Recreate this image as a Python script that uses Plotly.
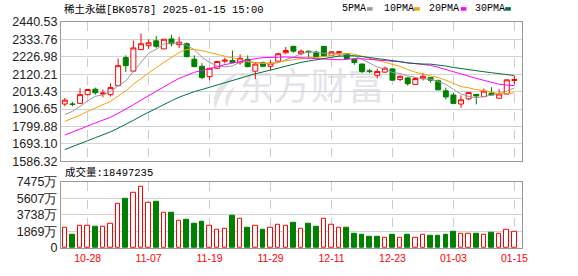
import plotly.graph_objects as go

# ---------------- data ----------------
dates = ["10-23","10-24","10-25","10-28","10-29","10-30","10-31","11-01","11-04","11-05",
         "11-06","11-07","11-08","11-11","11-12","11-13","11-14","11-15","11-18","11-19",
         "11-20","11-21","11-22","11-25","11-26","11-27","11-28","11-29","12-02","12-03",
         "12-04","12-05","12-06","12-09","12-10","12-11","12-12","12-13","12-16","12-17",
         "12-18","12-19","12-20","12-23","12-24","12-25","12-26","12-27","12-30","12-31",
         "01-02","01-03","01-06","01-07","01-08","01-09","01-10","01-13","01-14","01-15"]

tick_labels = ["10-28","11-07","11-19","11-29","12-11","12-23","01-03","01-15"]

open_ = [1937.9,1938.0,1941.8,1995.0,2028.7,1999.1,1995.2,2050.4,2222.3,2139.3,
         2271.7,2295.4,2325.0,2275.6,2336.8,2301.3,2307.2,2212.4,2169.0,2105.7,
         2157.1,2200.5,2204.5,2190.7,2212.4,2139.3,2190.7,2169.0,2200.5,2251.9,
         2291.4,2246.0,2261.8,2255.9,2291.4,2236.1,2253.9,2246.0,2212.4,2182.8,
         2140.5,2113.7,2133.4,2153.2,2088.0,2097.8,2058.3,2095.9,2099.8,2080.1,
         2018.9,1993.2,1937.9,1969.5,1997.2,1983.3,2005.0,1973.4,1999.1,2082.1]
high = [1975.4,1951.7,2034.7,2030.7,2038.6,2026.8,2064.3,2216.4,2236.1,2327.0,
        2370.4,2334.9,2354.6,2336.5,2362.5,2350.7,2315.1,2236.1,2188.7,2159.0,
        2202.5,2222.3,2265.7,2242.0,2236.1,2192.7,2198.6,2206.5,2251.9,2287.5,
        2295.4,2271.7,2265.7,2265.7,2292.0,2261.8,2259.8,2248.0,2216.4,2186.7,
        2153.2,2153.2,2167.0,2157.1,2113.7,2101.8,2103.8,2129.5,2103.8,2088.0,
        2038.6,2007.0,1991.2,2011.0,1999.1,2032.7,2040.6,2028.7,2088.0,2109.7]
low = [1924.0,1924.0,1940.0,1991.2,1995.2,1979.3,1983.3,2046.5,2133.4,2137.0,
       2267.7,2275.6,2279.5,2274.0,2291.4,2281.5,2224.2,2163.0,2090.0,2084.0,
       2153.2,2186.7,2190.7,2178.8,2163.1,2090.0,2167.0,2143.3,2192.7,2244.0,
       2251.9,2236.0,2226.2,2226.2,2228.2,2232.2,2228.2,2212.4,2178.8,2127.5,
       2127.5,2093.9,2131.4,2082.0,2078.1,2050.5,2056.4,2082.1,2068.2,2022.8,
       1965.6,1939.9,1914.2,1961.6,1935.9,1981.4,1991.2,1973.4,1997.0,2058.3]
close = [1961.6,1936.0,1995.2,2026.8,2007.0,2005.0,2038.6,2172.9,2172.9,2281.5,
         2307.2,2313.1,2291.4,2334.9,2307.2,2317.1,2228.2,2167.0,2099.8,2157.1,
         2198.6,2206.5,2192.7,2218.3,2167.0,2182.8,2169.0,2188.7,2246.0,2265.7,
         2261.8,2261.8,2257.8,2228.2,2232.2,2257.8,2257.8,2216.4,2192.7,2137.4,
         2139.0,2137.4,2157.1,2084.1,2107.7,2062.3,2093.9,2107.7,2084.1,2024.8,
         1981.4,1941.8,1963.6,2009.0,1987.3,2016.9,1993.2,1999.1,2086.0,2088.0]

ma5 = [1873.0,1893.0,1923.0,1957.7,1985.3,1994.0,2014.5,2050.0,2079.3,2134.2,
       2194.6,2249.5,2273.2,2305.6,2310.8,2312.7,2295.8,2270.9,2223.9,2193.8,
       2170.1,2165.8,2170.9,2194.6,2196.6,2193.5,2186.0,2185.2,2190.7,2210.4,
       2226.2,2244.8,2258.6,2255.1,2248.4,2247.6,2246.8,2238.5,2231.4,2212.4,
       2188.7,2164.6,2152.7,2131.0,2125.1,2109.7,2101.0,2091.1,2091.1,2074.6,
       2058.4,2028.0,1999.1,1984.1,1976.6,1983.7,1994.0,2001.1,2016.5,2036.6]
ma10 = [1831.4,1848.0,1869.5,1893.2,1913.9,1933.6,1954.0,1986.8,2018.6,2059.8,
        2094.4,2132.1,2161.7,2192.5,2222.5,2253.7,2272.7,2272.1,2264.8,2252.4,
        2241.5,2230.8,2220.9,2209.2,2198.0,2190.0,2186.0,2187.0,2195.0,2203.6,
        2209.9,2215.4,2221.9,2222.9,2229.4,2236.9,2245.8,2248.6,2243.3,2230.5,
        2218.2,2205.8,2195.7,2181.3,2168.8,2149.2,2132.8,2121.9,2111.0,2099.7,
        2083.9,2064.3,2044.9,2037.4,2025.4,2020.9,2010.8,1999.9,2000.1,2006.4]
ma20 = [1748.0,1765.0,1784.0,1804.0,1822.0,1839.0,1857.0,1881.0,1905.0,1933.0,
        1962.0,1990.0,2016.0,2044.0,2070.0,2095.0,2115.0,2132.0,2144.0,2154.0,
        2166.0,2179.4,2189.3,2198.9,2206.9,2215.8,2222.3,2223.1,2226.8,2226.0,
        2223.7,2221.1,2219.4,2214.1,2210.3,2207.3,2208.8,2211.3,2215.9,2214.9,
        2211.9,2208.4,2206.6,2199.9,2196.9,2190.9,2187.1,2183.1,2175.0,2163.0,
        2149.0,2133.0,2118.3,2107.3,2095.1,2083.1,2069.9,2059.0,2053.7,2051.2]
ma30 = [1659.0,1675.7,1694.0,1713.1,1731.2,1748.9,1767.4,1790.0,1812.3,1837.9,
        1864.0,1888.4,1911.5,1935.4,1957.7,1979.7,1998.1,2013.9,2026.8,2041.0,
        2055.9,2070.5,2084.3,2098.6,2110.8,2123.3,2134.4,2145.9,2158.9,2172.1,
        2181.9,2192.8,2201.5,2208.2,2215.7,2224.1,2231.4,2232.9,2233.5,2228.7,
        2223.1,2217.2,2212.7,2204.3,2197.7,2189.2,2184.7,2182.7,2182.2,2177.8,
        2170.6,2161.8,2154.2,2147.2,2141.2,2135.7,2129.8,2123.5,2118.2,2112.3]

volume_wan = [2261,1532,2480,2480,2407,2370,2699,4996,5580,6200,
              6966,5106,5252,4012,3939,3027,3173,2735,2990,2480,
              2079,2152,3611,3246,2298,2480,2079,2261,2589,2480,
              2845,2152,2735,2407,3246,2589,2261,2298,1641,1532,
              1313,1313,1204,1532,1167,1532,1204,1495,1422,1422,
              1532,1860,1641,1641,1641,1532,1751,1641,2079,1849.7235]
# volume bar colour: "u" = up (red hollow), "d" = down (green)
volume_dir = ["u","d","u","u","d","u","u","u","d","u",
              "u","u","d","u","d","u","d","d","d","u",
              "u","u","d","u","d","u","d","u","u","u",
              "d","u","d","d","u","u","u","d","d","d",
              "d","d","u","d","u","d","u","u","d","d",
              "d","d","u","u","d","u","d","u","u","u"]

price_ticks = [1586.32,1693.10,1799.88,1906.65,2013.43,2120.21,2226.98,2333.76,2440.53]
vol_ticks = [0,1868.75,3737.5,5606.25,7475]
vol_tick_text = ["0","1869万","3738万","5607万","7475万"]
last_volume = "18497235"
title_text = "稀土永磁[BK0578] 2025-01-15 15:00"
ma_names = ["5PMA","10PMA","20PMA","30PMA"]

# ---------------- style ----------------
RED = "#ff0000"
GREEN = "#008000"
MA_COLORS = ["#999999", "#f5a300", "#ff00ff", "#00703a"]
W, H = 578, 276
L, R, T, B = 55, 56, 22, 21
PW, PH = W - L - R, H - T - B

def pxx(x):
    return (x - L) / PW

def pyy(y):
    return (H - B - y) / PH

x = list(range(len(dates)))
tickvals = [dates.index(t) for t in tick_labels]

fig = go.Figure()

fig.add_trace(go.Candlestick(
    x=x, open=open_, high=high, low=low, close=close,
    increasing=dict(line=dict(color=RED, width=1), fillcolor="white"),
    decreasing=dict(line=dict(color=GREEN, width=1), fillcolor=GREEN),
    whiskerwidth=0, xaxis="x", yaxis="y", showlegend=False, hoverinfo="skip"))

for vals, col in zip([ma5, ma10, ma20, ma30], MA_COLORS):
    fig.add_trace(go.Scatter(x=x, y=vals, mode="lines",
                             line=dict(color=col, width=1),
                             xaxis="x", yaxis="y", showlegend=False, hoverinfo="skip"))

fig.add_trace(go.Bar(
    x=x, y=volume_wan, width=0.6,
    marker=dict(color=["white" if d == "u" else GREEN for d in volume_dir],
                line=dict(color=[RED if d == "u" else GREEN for d in volume_dir], width=1)),
    xaxis="x2", yaxis="y2", showlegend=False, hoverinfo="skip"))

axis_font = dict(family="Liberation Sans, Arial", size=12.5, color="#222")
common_x = dict(range=[-0.5, 60.0], tickvals=tickvals, showgrid=True,
                gridcolor="#cccccc", griddash="dash", gridwidth=1,
                showline=True, mirror=True, linecolor="#999999", linewidth=1,
                zeroline=False, ticks="")

fig.update_layout(
    width=W, height=H,
    margin=dict(l=L, r=R, t=T, b=B, pad=0),
    paper_bgcolor="white", plot_bgcolor="white",
    boxgap=0.35, boxgroupgap=0,
    bargap=0,
    xaxis=dict(**common_x, anchor="y", showticklabels=False,
               rangeslider=dict(visible=False)),
    xaxis2=dict(**common_x, anchor="y2", matches="x",
                ticktext=tick_labels, showticklabels=True,
                tickfont=dict(family="Liberation Sans, Arial", size=10.5, color=RED)),
    yaxis=dict(domain=[pyy(165.7), 1.0], range=[price_ticks[0], price_ticks[-1]],
               tickvals=price_ticks, ticktext=[f"{v:.2f}" for v in price_ticks],
               tickfont=axis_font, showgrid=True, gridcolor="#d3d3d3", gridwidth=1,
               showline=True, mirror=True, linecolor="#999999", linewidth=1,
               zeroline=False, ticks=""),
    yaxis2=dict(domain=[0, pyy(186.7)], range=[0, vol_ticks[-1]],
                tickvals=vol_ticks, ticktext=vol_tick_text,
                tickfont=axis_font, showgrid=True, gridcolor="#d3d3d3", gridwidth=1,
                showline=True, mirror=True, linecolor="#999999", linewidth=1,
                zeroline=False, ticks=""),
)

txt_font = dict(family="Liberation Mono, Noto Sans CJK SC", size=10.5, color="#000")
annotations = [
    dict(text=title_text, x=pxx(56), y=pyy(9), xref="paper", yref="paper",
         xanchor="left", yanchor="middle", showarrow=False, font=txt_font),
    dict(text="成交量:" + last_volume, x=pxx(57), y=pyy(177.5), xref="paper", yref="paper",
         xanchor="left", yanchor="middle", showarrow=False, font=txt_font),
]
legend_x = [338, 380, 426, 472]
square_x = [365, 412.7, 460, 505]
shapes = []
for name, lx, sx, col in zip(ma_names, legend_x, square_x, MA_COLORS):
    annotations.append(dict(text=name, x=pxx(lx), y=pyy(8.5), xref="paper", yref="paper",
                            xanchor="left", yanchor="middle", showarrow=False,
                            font=dict(family="Liberation Mono", size=10, color="#000")))
    shapes.append(dict(type="rect", xref="paper", yref="paper",
                       x0=pxx(sx), x1=pxx(sx + 5.7), y0=pyy(10.3), y1=pyy(6.7),
                       fillcolor=col, line=dict(width=0)))

# watermark (东方财富 logo)
shapes.append(dict(type="rect", xref="paper", yref="paper", layer="below",
                   x0=pxx(236), x1=pxx(380), y0=pyy(114), y1=pyy(70),
                   line=dict(width=0), fillcolor="rgba(0,0,0,0)",
                   label=dict(text="东方财富", textposition="middle center",
                              font=dict(family="Noto Sans CJK SC", size=37, color="#e4e4ea"))))
def P(xp, yp):
    return f"{pxx(xp):.5f},{pyy(yp):.5f}"
swirl = (f"M{P(236,74)} C{P(220,78)} {P(204,96)} {P(212,112)} "
         f"C{P(213,100)} {P(222,86)} {P(236,74)} Z")
swirl2 = (f"M{P(232,88)} C{P(222,94)} {P(218,104)} {P(224,110)} "
          f"C{P(224,102)} {P(228,95)} {P(232,88)} Z")
for pth in (swirl, swirl2):
    shapes.append(dict(type="path", path=pth, xref="paper", yref="paper", layer="below",
                       fillcolor="#e4e4ea", line=dict(width=0)))

fig.update_layout(annotations=annotations, shapes=shapes)
fig.write_html("out.html")
